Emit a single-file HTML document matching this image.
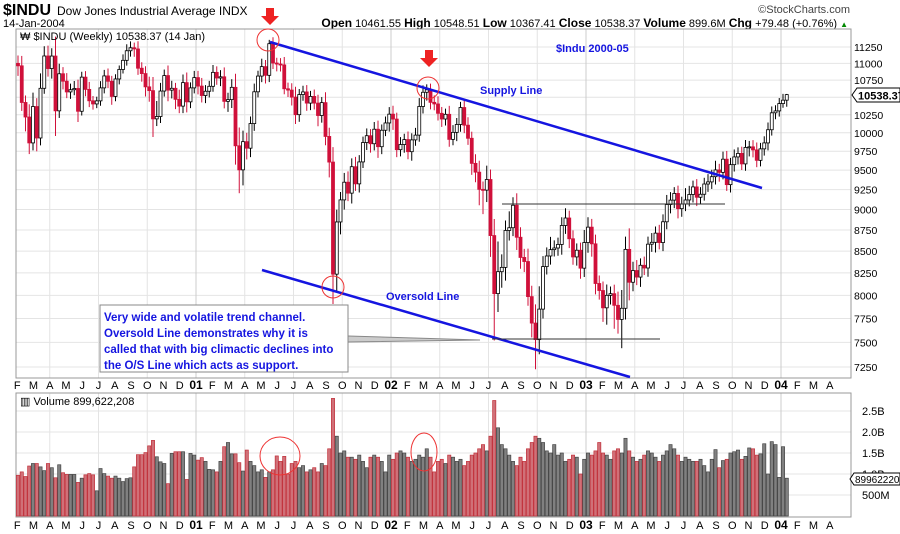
<!DOCTYPE html>
<html><head><meta charset="utf-8"><style>
html,body{margin:0;padding:0;background:#fff;width:900px;height:534px;overflow:hidden}
svg{display:block;font-family:"Liberation Sans",sans-serif}
</style></head><body>
<svg id="chart" width="900" height="534" viewBox="0 0 900 534" xmlns="http://www.w3.org/2000/svg">
<g>
<text x="3" y="15" font-size="16" font-weight="bold">$INDU</text>
<text x="57" y="15" font-size="12">Dow Jones Industrial Average INDX</text>
<text x="3" y="27" font-size="11">14-Jan-2004</text>
<text x="848" y="27" font-size="11" text-anchor="end"><tspan font-weight="bold" font-size="12">Open</tspan> 10461.55 <tspan font-weight="bold" font-size="12">High</tspan> 10548.51 <tspan font-weight="bold" font-size="12">Low</tspan> 10367.41 <tspan font-weight="bold" font-size="12">Close</tspan> 10538.37 <tspan font-weight="bold" font-size="12">Volume</tspan> 899.6M <tspan font-weight="bold" font-size="12">Chg</tspan> +79.48 (+0.76%) <tspan fill="#080" font-size="8">▲</tspan></text>
<text x="850" y="13" font-size="11" text-anchor="end" fill="#444">©StockCharts.com</text>
</g>
<g id="grid"></g>
<rect x="16" y="29" width="835" height="349" fill="none" stroke="#999"/>
<rect x="16" y="393" width="835" height="124" fill="none" stroke="#999"/>
<g id="candles"></g>
<g id="vols"></g>
<g id="axes" font-size="11"></g>
<text x="20" y="40" font-size="11">₩ $INDU (Weekly) 10538.37 (14 Jan)</text>
<text x="20" y="405" font-size="11">▥ Volume 899,622,208</text>
<g>
<line x1="270" y1="42" x2="762" y2="188" stroke="#1515e0" stroke-width="2.5"/>
<line x1="262" y1="270" x2="630" y2="377" stroke="#1515e0" stroke-width="2.5"/>
<line x1="502" y1="204" x2="725" y2="204" stroke="#333" stroke-width="1"/>
<line x1="492" y1="339" x2="660" y2="339" stroke="#333" stroke-width="1"/>
<circle cx="268" cy="40" r="11" fill="none" stroke="#e33"/>
<circle cx="428" cy="88" r="11" fill="none" stroke="#e33"/>
<circle cx="333" cy="287" r="11" fill="none" stroke="#e33"/>
<ellipse cx="280" cy="456" rx="20" ry="19" fill="none" stroke="#e33"/>
<ellipse cx="424" cy="452" rx="13" ry="19" fill="none" stroke="#e33"/>
<path d="M266 8h8v8h5l-9 9-9-9h5z" fill="#e22"/>
<path d="M425 50h8v8h5l-9 9-9-9h5z" fill="#e22"/>
<text x="556" y="52" font-size="11" font-weight="bold" fill="#1515e0">$Indu 2000-05</text>
<text x="480" y="94" font-size="11" font-weight="bold" fill="#1515e0">Supply Line</text>
<text x="386" y="300" font-size="11" font-weight="bold" fill="#1515e0">Oversold Line</text>
<path d="M348 336 L480 340 L348 342" fill="#ccc" stroke="#888"/>
<rect x="100" y="305" width="248" height="67" fill="#fff" stroke="#888"/>
<g font-size="11.5" font-weight="bold" fill="#1515e0">
<text x="104" y="321">Very wide and volatile trend channel.</text>
<text x="104" y="337">Oversold Line demonstrates why it is</text>
<text x="104" y="353">called that with big climactic declines into</text>
<text x="104" y="369">the O/S Line which acts as support.</text>
</g>
</g>
<g>
<path d="M852 95 l5 -7 h43 v14 h-43 z" fill="#fff" stroke="#000"/>
<text x="858" y="99.5" font-size="11" font-weight="bold">10538.37</text>
</g>
<g>
<path d="M850 479 l4 -6 h46 v12 h-46 z" fill="#fff" stroke="#000"/>
<text x="855" y="483" font-size="10">89962220</text>
</g>
</svg>
<script>
const closes2000=[10963,10425,10219,9862,10367,9929,10630,11112,10922,11111,10306,10844,10734,10577,10609,10627,10300,10794,10614,10449,10404,10448,10636,10812,10733,10512,10767,10908,11046,11192,11238,11220,10927,10847,10651,10596,10193,10226,10590,10817,10603,10630,10470,10373,10713,10434,10636,10787];
const closes2001=[10662,10525,10587,10659,10865,10781,10799,10441,10466,10644,9823,9504,9879,9791,10127,10579,10810,10951,10821,11301,11005,10990,10977,10623,10604,10502,10252,10539,10577,10416,10512,10416,10240,10423,9950,9606,8236,8848,9120,9344,9205,9545,9323,9608,9867,9960,9851,10049,9811,10035,10136];
const closes2002=[10259,10190,9771,9840,9907,9744,9903,9968,10368,10572,10608,10427,10404,10271,10191,10257,9910,10006,10115,10353,10105,9925,9589,9474,9253,9243,9379,8684,8019,8264,8313,8745,8778,9053,8664,8427,8380,7986,7701,7528,7850,8322,8444,8518,8537,8579,8805,8896,8646,8433,8511,8304];
const closes2003=[8601,8785,8586,8131,8053,7864,8000,8018,7891,7740,7859,8521,8145,8277,8203,8337,8306,8582,8604,8713,8601,8850,9062,9117,9201,9011,9070,9119,9188,9284,9153,9191,9321,9348,9415,9503,9471,9644,9313,9572,9674,9721,9582,9801,9809,9768,9629,9782,9862,10042,10278,10305];
const closes2004=[10409,10458,10538];
const wickUp=[120,150,100,180,200,120,220,150,160,120,300,150,100,120,90,110,130,80,90,110,70,60,100,90,110,80,70,60,90,100,100,80,120,90,110,150,200,220,120,90,150,110,80,140,120,150,80,100,
100,120,90,80,110,90,100,140,100,120,200,250,150,120,100,120,80,120,100,60,100,80,90,120,90,100,150,80,90,100,80,100,120,80,150,120,200,150,100,120,140,110,130,90,80,100,90,100,120,80,90,
100,120,90,100,80,110,90,100,120,100,80,90,100,110,90,80,120,100,90,80,100,110,90,120,150,100,180,130,200,350,150,120,200,100,150,120,100,150,120,200,250,120,100,150,90,80,100,120,90,100,80,90,
150,120,100,110,90,100,120,80,100,150,200,150,250,100,120,80,100,90,110,80,100,90,120,100,80,100,90,150,110,80,100,90,80,100,90,120,80,100,110,90,100,80,90,100,80,90,100,80,90,100,90,80,
80,90,10];
const wickDn=[150,120,200,150,100,180,100,80,120,150,350,100,120,90,100,80,150,60,100,90,80,60,70,80,100,120,70,80,60,80,90,120,100,120,140,160,250,100,90,80,160,120,140,100,100,150,90,80,
120,100,110,90,80,100,120,100,150,120,250,300,200,150,120,100,80,90,120,100,90,110,100,80,100,120,130,100,90,110,100,90,150,100,120,200,330,200,150,120,100,130,90,110,80,100,120,90,150,100,80,
120,150,100,90,110,100,120,80,90,100,120,100,90,100,110,90,100,80,120,100,110,90,150,130,200,300,150,250,500,200,180,150,120,100,150,130,120,100,150,300,150,100,90,100,80,90,120,100,110,90,100,120,
100,120,150,120,100,150,180,100,250,150,300,120,200,100,90,110,80,100,90,120,80,100,90,110,100,120,100,90,80,100,110,90,80,100,90,100,120,90,80,100,90,100,80,90,120,100,90,80,90,100,80,90,
80,60,94];
const volumes=[0.97,1.05,0.94,1.19,1.25,1.25,1.17,1.08,1.25,1.15,0.91,1.22,1.03,0.99,0.99,0.99,0.80,0.90,0.98,1.01,0.98,0.60,1.13,1.01,0.95,0.90,0.95,0.90,0.82,0.89,0.91,1.17,1.46,1.46,1.51,1.67,1.80,1.41,1.29,1.25,0.77,1.49,1.53,1.53,1.53,0.87,1.49,1.45,
1.33,1.39,1.30,1.11,1.10,1.05,1.30,1.65,1.75,1.48,1.48,1.27,1.07,1.57,1.30,1.20,1.05,1.10,0.92,1.05,1.10,1.43,1.30,1.42,1.00,1.25,1.30,1.15,1.20,1.05,1.10,1.15,1.05,1.25,1.20,1.60,2.80,1.90,1.50,1.55,1.40,1.40,1.35,1.45,1.30,1.15,1.40,1.45,1.40,1.30,1.05,
1.45,1.35,1.50,1.55,1.50,1.40,1.30,1.35,1.45,1.40,1.60,1.40,1.05,1.30,1.35,1.25,1.45,1.40,1.30,1.35,1.20,1.30,1.45,1.50,1.60,1.70,1.55,1.90,2.75,2.10,1.70,1.60,1.45,1.30,1.20,1.40,1.30,1.60,1.75,1.90,1.85,1.75,1.55,1.50,1.70,1.45,1.50,1.30,1.35,1.45,1.40,1.00,
1.35,1.50,1.45,1.55,1.75,1.50,1.45,1.35,1.55,1.60,1.50,1.85,1.55,1.40,1.30,1.35,1.45,1.55,1.50,1.40,1.30,1.45,1.55,1.70,1.60,1.45,1.30,1.40,1.35,1.30,1.30,1.35,1.20,1.05,1.35,1.58,1.15,1.32,1.35,1.50,1.53,1.57,1.35,1.42,1.62,1.60,1.45,1.48,1.72,1.00,1.77,1.70,
0.92,1.65,0.90];
const priceTicks=[11250,11000,10750,10250,10000,9750,9500,9250,9000,8750,8500,8250,8000,7750,7500,7250];
const volTicks=[2.5,2.0,1.5,1.0,0.5];
const volTickLabels=["2.5B","2.0B","1.5B","1.0B","500M"];
const monthLabels=["J","F","M","A","M","J","J","A","S","O","N","D"];
const yearLabels=["00","01","02","03","04"];
const firstOpen=11000;

const NS="http://www.w3.org/2000/svg";
const closes=[].concat(closes2000,closes2001,closes2002,closes2003,closes2004);
const yP=v=>47+Math.log(11250/v)*728.4;
const yV=v=>516-v*42;
const xW=i=>18+i*3.75;
const xM=(yr,m)=>1+(yr+m/12)*195;
function mk(tag,attrs,parent){const e=document.createElementNS(NS,tag);for(const k in attrs)e.setAttribute(k,attrs[k]);parent.appendChild(e);return e;}

const grid=document.getElementById('grid');
priceTicks.concat([10500]).forEach(v=>{
  const l=mk('line',{x1:16,x2:851,y1:yP(v),y2:yP(v),stroke:'#e4e4e4'},grid);
  
  
});
volTicks.forEach(v=>{
  const l=mk('line',{x1:16,x2:851,y1:yV(v),y2:yV(v),stroke:'#e4e4e4'},grid);
  
  
});
for(let q=1;q<17;q++){
  const x=1+q*48.75;
  const l=mk('line',{x1:x,x2:x,y1:29,y2:378,stroke:q%4==0?'#ccc':'#e4e4e4'},grid);
  
  
  const l2=mk('line',{x1:x,x2:x,y1:393,y2:517,stroke:q%4==0?'#ccc':'#e4e4e4'},grid);
  
  
}

const cg=document.getElementById('candles');
const vg=document.getElementById('vols');
closes.forEach((c,i)=>{
  const o=i==0?firstOpen:closes[i-1];
  const down=c<o;
  const col=down?'#d0103a':'#000';
  const x=xW(i);
  const hi=Math.max(o,c)+wickUp[i], lo=Math.min(o,c)-wickDn[i];
  const w=mk('line',{x1:x,x2:x,y1:yP(hi),y2:yP(lo),stroke:col,'stroke-width':1},cg);
  
  
  const top=yP(Math.max(o,c)), h=Math.max(1,Math.abs(yP(o)-yP(c)));
  const b=mk('rect',{x:x-1.5,y:top,width:3,height:h,fill:down?col:'#fff',stroke:col,'stroke-width':0.8},cg);
  
  
  const v=volumes[i];
  const vb=mk('rect',{x:x-1.6,y:yV(v),width:3.2,height:516-yV(v),fill:down?'#d07078':'#808080',stroke:down?'#c0303a':'#444','stroke-width':0.7},vg);
  
  
});

const ag=document.getElementById('axes');
priceTicks.forEach(v=>{
  const t=mk('text',{x:854,y:yP(v)+4,'font-size':10.5},ag);t.textContent=v;
  
  
});
volTicks.forEach((v,k)=>{
  const t=mk('text',{x:862,y:yV(v)+4},ag);t.textContent=volTickLabels[k];
  
  
});
for(let yr=0;yr<5;yr++){for(let m=0;m<12;m++){
  if(yr==0&&m==0)continue; if(yr==4&&m>3)break;
  const x=xM(yr,m);
  [389,529].forEach(yy=>{
    const t=mk('text',{x:x,y:yy,'text-anchor':'middle'},ag);
    if(m==0){t.textContent=yearLabels[yr];t.setAttribute('font-weight','bold');t.setAttribute('font-size','12');}
    else t.textContent=monthLabels[m];
    
    
  });
}}
</script>
</body></html>
